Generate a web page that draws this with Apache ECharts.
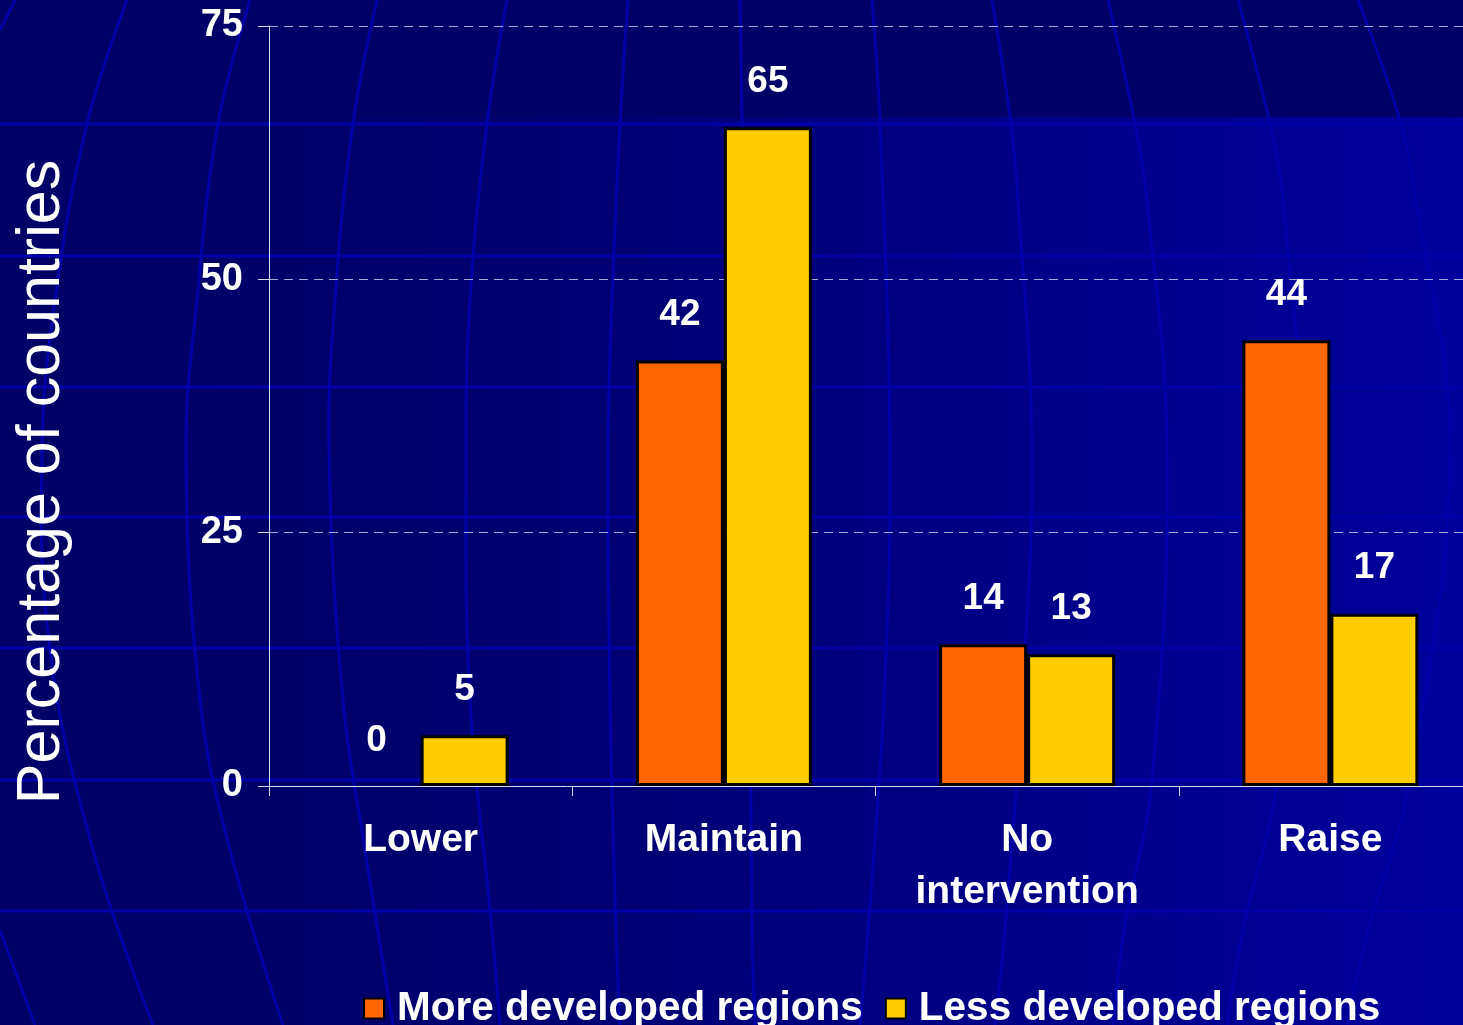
<!DOCTYPE html>
<html>
<head>
<meta charset="utf-8">
<script src="https://cdn.jsdelivr.net/npm/echarts@6/dist/echarts.min.js"></script>
<style>
  html, body { margin: 0; padding: 0; background: #000066; }
  #mainChart { width: 1463px; height: 1025px; }
</style>
</head>
<body>
<div id="mainChart"></div>
<script>
var categories = ['Lower', 'Maintain', 'No\nintervention', 'Raise'];
var moreDeveloped = [0, 42, 14, 44];
var lessDeveloped = [5, 65, 13, 17];
var yTicks = [0, 25, 50, 75];

// globe grid behind the chart (decoration only)
var parallels = [124, 256, 387, 517, 648, 780, 911];
var meridians = [
	[[15, 0], [0, 30]],
	[[0, 930], [35, 1025]],
	[[127, 0], [87, 124], [55, 300], [42, 450], [50, 650], [93, 850], [153, 1025]],
	[[250, 0], [218, 124], [197, 300], [186, 450], [200, 700], [230, 850], [283, 1025]],
	[[377, 0], [353, 124], [335, 300], [329, 450], [343, 700], [365, 850], [393, 1025]],
	[[507, 0], [487, 124], [470, 300], [466, 450], [470, 700], [492, 930], [500, 1025]],
	[[628, 0], [620, 124], [612, 300], [608, 450], [610, 700], [616, 930], [620, 1025]],
	[[740, 0], [742, 124], [745, 450], [750, 700], [752, 930], [755, 1025]],
	[[872, 0], [880, 124], [890, 450], [884, 700], [868, 930], [860, 1025]],
	[[992, 0], [1011, 124], [1018, 200], [1032, 450], [1022, 700], [1005, 930], [995, 1025]],
	[[1108, 0], [1135, 124], [1147, 200], [1167, 450], [1152, 780], [1124, 930], [1113, 1025]],
	[[1238, 0], [1270, 124], [1283, 200], [1300, 450], [1277, 780], [1243, 930], [1227, 1025]],
	[[1358, 0], [1401, 124], [1416, 200], [1450, 450], [1410, 780], [1368, 930], [1347, 1025]]
];

var FONT = '"Liberation Sans", Arial, sans-serif';

function buildBackground() {
	var els = [];
	els.push({
		type: 'rect', z: -100, silent: true,
		shape: { x: 174, y: 117, width: 1289, height: 908 },
		style: {
			fill: new echarts.graphic.LinearGradient(0, 0, 1, 0, [
				{ offset: 0, color: '#000066' },
				{ offset: 0.35, color: '#000074' },
				{ offset: 1, color: '#00009c' }
			])
		}
	});
	for (var i = 0; i < parallels.length; i++) {
		els.push({
			type: 'line', z: -90, silent: true,
			shape: { x1: 0, y1: parallels[i], x2: 1463, y2: parallels[i] },
			style: { stroke: '#0000a8', lineWidth: 3 }
		});
	}
	for (var j = 0; j < meridians.length; j++) {
		els.push({
			type: 'polyline', z: -90, silent: true,
			shape: { points: meridians[j], smooth: 0.4 },
			style: { stroke: '#0000a8', lineWidth: 3, fill: null }
		});
	}
	els.push({
		type: 'text', z: 10, silent: true,
		x: 42, y: 482, rotation: Math.PI / 2,
		style: {
			text: 'Percentage of countries',
			fill: '#ffffff',
			font: '61px ' + FONT,
			align: 'center',
			verticalAlign: 'middle',
			shadowColor: '#000000',
			shadowOffsetX: 3,
			shadowOffsetY: 2,
			shadowBlur: 0
		}
	});
	return els;
}

// zero-height bars get no outline
function barData(values) {
	return values.map(function (v) {
		return v === 0 ? { value: v, itemStyle: { borderWidth: 0 } } : v;
	});
}

var dom = document.getElementById('mainChart');
var myChart = echarts.init(dom);

var labelStyle = {
	show: true,
	position: 'top',
	distance: 27,
	color: '#ffffff',
	fontFamily: FONT,
	fontWeight: 'bold',
	fontSize: 37
};

option = {
	backgroundColor: '#000066',
	animation: false,
	graphic: buildBackground(),
	grid: {
		left: 269,
		top: 26,
		right: -19,
		bottom: 239,
		containLabel: false,
		outerBoundsMode: 'none'
	},
	legend: {
		left: 358,
		top: 983,
		itemWidth: 20,
		itemHeight: 20,
		itemGap: 22,
		icon: 'rect',
		data: ['More developed regions', 'Less developed regions'],
		textStyle: {
			color: '#ffffff',
			fontFamily: FONT,
			fontWeight: 'bold',
			fontSize: 40.5,
			padding: [0, 0, 0, 8]
		}
	},
	xAxis: {
		type: 'category',
		data: categories,
		axisLine: { show: true, lineStyle: { color: '#d8d8ee', width: 1 } },
		axisTick: { show: true, length: 10, lineStyle: { color: '#d8d8ee' } },
		axisLabel: {
			interval: 0,
			margin: 28,
			color: '#ffffff',
			fontFamily: FONT,
			fontWeight: 'bold',
			fontSize: 39,
			lineHeight: 52
		}
	},
	yAxis: {
		type: 'value',
		min: yTicks[0],
		max: yTicks[yTicks.length - 1],
		interval: 25,
		axisLine: { show: true, lineStyle: { color: '#d8d8ee', width: 1 } },
		axisTick: { show: true, length: 11, lineStyle: { color: '#d8d8ee' } },
		axisLabel: {
			margin: 26,
			color: '#ffffff',
			fontFamily: FONT,
			fontWeight: 'bold',
			fontSize: 38
		},
		splitLine: {
			show: true,
			lineStyle: { color: '#a4acdc', width: 1, type: [9, 6] }
		}
	},
	series: [{
		name: 'More developed regions',
		type: 'bar',
		data: barData(moreDeveloped),
		barWidth: 88,
		barGap: '0%',
		itemStyle: { color: '#ff6600', borderColor: '#000000', borderWidth: 3 },
		label: labelStyle
	}, {
		name: 'Less developed regions',
		type: 'bar',
		data: barData(lessDeveloped),
		barWidth: 88,
		barGap: '0%',
		itemStyle: { color: '#ffcc00', borderColor: '#000000', borderWidth: 3 },
		label: labelStyle
	}]
};

if (option && typeof option === "object") {
	myChart.setOption(option, true);
}
</script>
</body>
</html>
